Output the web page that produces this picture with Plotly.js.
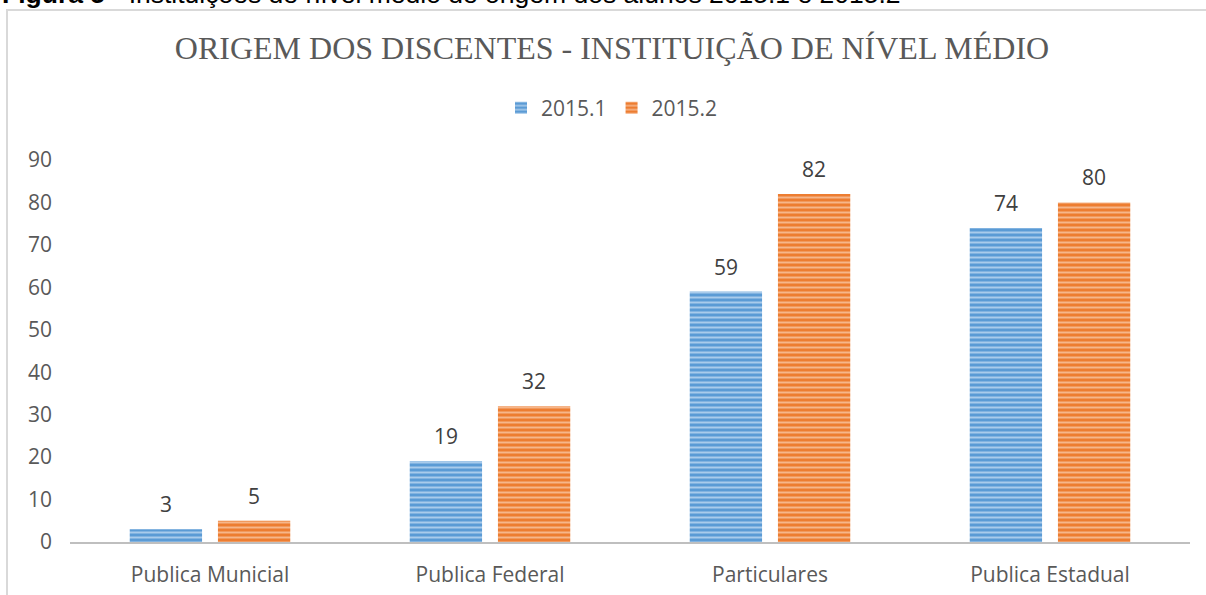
<!DOCTYPE html>
<html>
<head>
<meta charset="utf-8">
<script src="https://cdn.plot.ly/plotly-3.0.1.min.js"></script>
<style>html,body{margin:0;padding:0;background:#fff;}#chart{width:1206px;height:595px;}</style>
</head>
<body>
<div id="chart"></div>
<script>
const categories = ["Publica Municial", "Publica Federal", "Particulares", "Publica Estadual"];
const series1Name = "2015.1";
const series2Name = "2015.2";
const series1 = [3, 19, 59, 74];
const series2 = [5, 32, 82, 80];
const yTicks = [0, 10, 20, 30, 40, 50, 60, 70, 80, 90];

const FONT = "'Open Sans', Lato, sans-serif";
const FS = 21;
const BARGAP = 0.37;
const PLOT_T = 160, PLOT_B = 53, H = 595;
const PLOT_H = H - PLOT_T - PLOT_B;
const pyToPaper = py => 1 + (PLOT_T - py) / PLOT_H;

function barTrace(name, values, base, stripe) {
  return {
    type: "bar",
    name: name,
    x: categories,
    y: values,
    marker: {
      color: base,
      line: {width: 0},
      pattern: {shape: "-", bgcolor: base, fgcolor: stripe, fgopacity: 1, size: 5, solidity: 0.4, fillmode: "replace"}
    },
    hoverinfo: "skip"
  };
}

const data = [
  barTrace(series1Name, series1, "#5B9BD5", "#A9CBEB"),
  barTrace(series2Name, series2, "#ED7D31", "#F6B68A")
];

const slotOffset = (1 - BARGAP) / 4;
const labelAnnotations = [];
[series1, series2].forEach((vals, s) => {
  vals.forEach((v, i) => {
    labelAnnotations.push({
      xref: "x", yref: "y",
      x: i + (s === 0 ? -slotOffset : slotOffset), y: v,
      text: String(v), showarrow: false,
      xanchor: "center", yanchor: "middle", yshift: 25,
      font: {family: FONT, size: FS, color: "#404040"}
    });
  });
});

const layout = {
  width: 1206, height: 595,
  margin: {l: 70, r: 16, t: PLOT_T, b: PLOT_B, pad: 0},
  paper_bgcolor: "#fff", plot_bgcolor: "#fff",
  showlegend: true,
  title: {
    text: "ORIGEM DOS DISCENTES - INSTITUIÇÃO DE NÍVEL MÉDIO",
    font: {family: "'Liberation Serif', 'Times New Roman', serif", size: 32, color: "#595959"},
    x: 612/1206, xref: "container", xanchor: "center",
    y: 1 - 48/595, yref: "container", yanchor: "middle"
  },
  legend: {
    orientation: "h", x: 0.5 - 18/1120, xanchor: "center", xref: "paper",
    y: pyToPaper(108), yanchor: "middle",
    font: {family: FONT, size: FS, color: "#595959"},
    itemwidth: 30, traceorder: "normal"
  },
  barmode: "group",
  bargap: BARGAP,
  bargroupgap: 0.18,
  xaxis: {
    type: "category",
    showgrid: false, zeroline: false,
    showline: true, linecolor: "#BFBFBF", linewidth: 2,
    ticks: "", ticklen: 0, ticklabelstandoff: 13,
    tickfont: {family: FONT, size: FS, color: "#595959"},
    fixedrange: true
  },
  yaxis: {
    range: [0, 90],
    tickvals: yTicks,
    ticktext: yTicks.map(String),
    showgrid: false, zeroline: false, showline: false,
    ticks: "", ticklabelstandoff: 17,
    tickfont: {family: FONT, size: FS, color: "#595959"},
    fixedrange: true
  },
  shapes: [{
    type: "rect", xref: "paper", yref: "paper",
    x0: (7-70)/1120, x1: 1.05,
    y0: -0.3, y1: pyToPaper(10),
    line: {color: "#D9D9D9", width: 2}, fillcolor: "rgba(0,0,0,0)", layer: "below"
  }],
  annotations: labelAnnotations.concat([{
    xref: "paper", yref: "paper",
    x: (0-70)/1120, y: pyToPaper(-6.5),
    xanchor: "left", yanchor: "middle", showarrow: false,
    text: "<b>Figura 5</b> - Instituições de nível médio de origem dos alunos 2015.1 e 2015.2",
    font: {family: "'Liberation Sans', Arial, sans-serif", size: 26.5, color: "#000"}
  }])
};

Plotly.newPlot("chart", data, layout, {displayModeBar: false, staticPlot: true});
</script>
</body>
</html>
